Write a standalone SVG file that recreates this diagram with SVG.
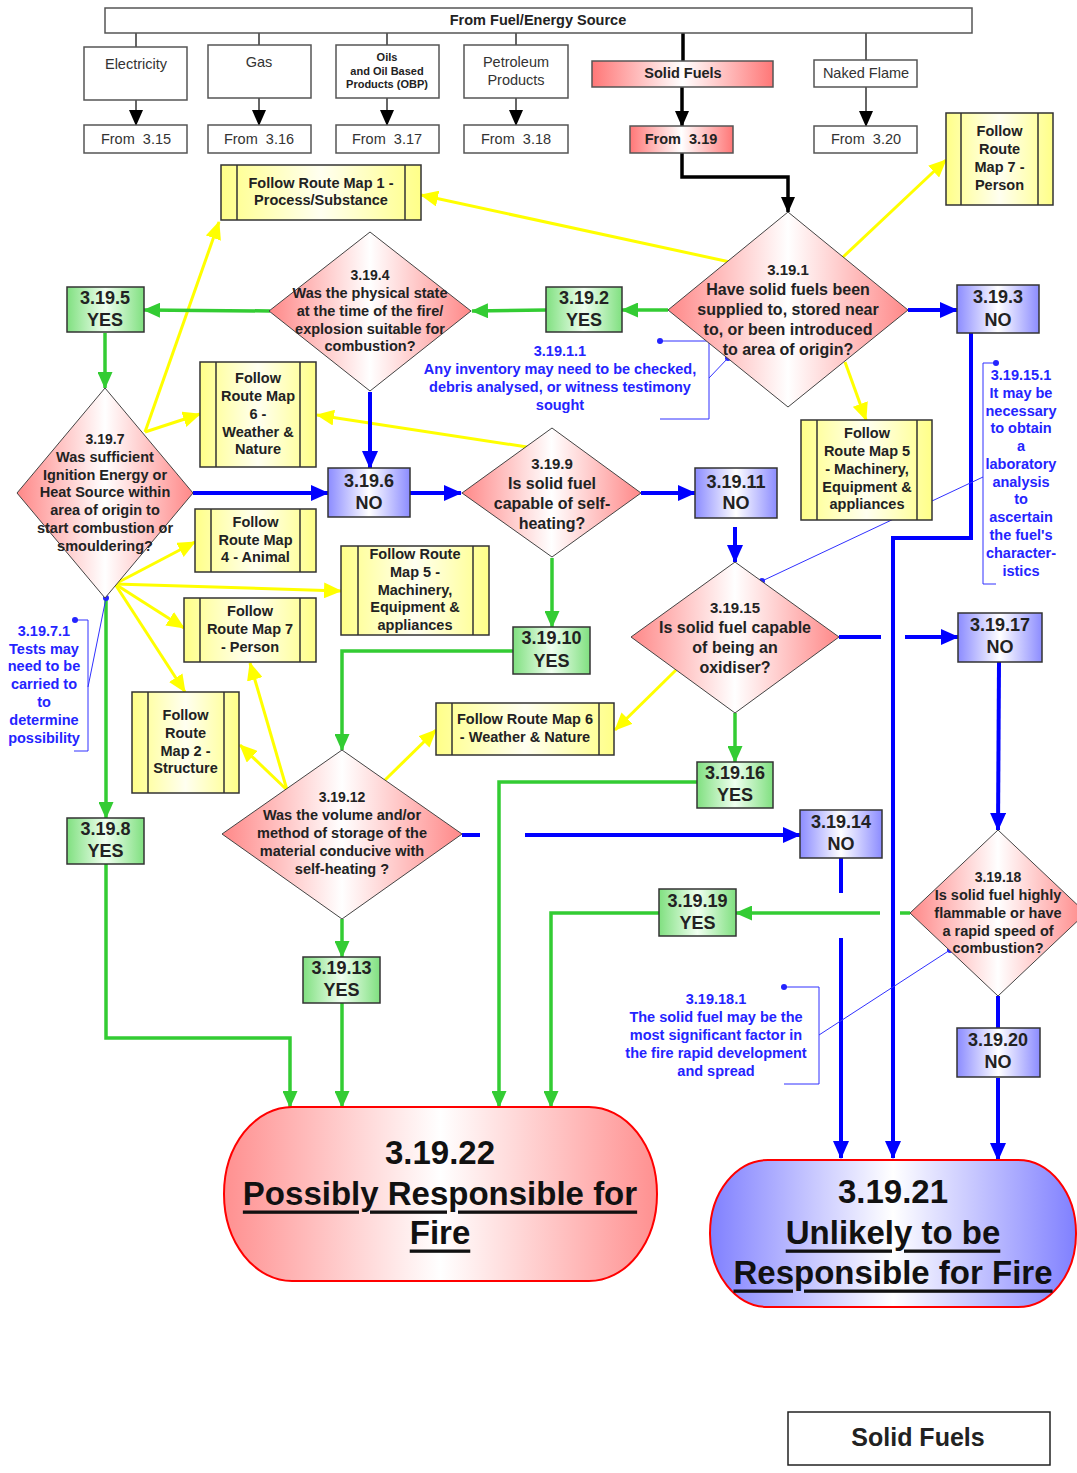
<svg xmlns="http://www.w3.org/2000/svg" width="1077" height="1473" viewBox="0 0 1077 1473">
<defs>
<linearGradient id="gr" x1="0" y1="0" x2="1" y2="0"><stop offset="0" stop-color="#f77"/><stop offset="0.5" stop-color="#fff"/><stop offset="1" stop-color="#f77"/></linearGradient>
<linearGradient id="gd" x1="0" y1="0" x2="1" y2="0"><stop offset="0" stop-color="#f88"/><stop offset="0.5" stop-color="#fff"/><stop offset="1" stop-color="#f88"/></linearGradient>
<linearGradient id="gg" x1="0" y1="0" x2="1" y2="0"><stop offset="0" stop-color="#80e080"/><stop offset="0.5" stop-color="#f0fff0"/><stop offset="1" stop-color="#80e080"/></linearGradient>
<linearGradient id="gb" x1="0" y1="0" x2="1" y2="0"><stop offset="0" stop-color="#8c8cff"/><stop offset="0.5" stop-color="#fff"/><stop offset="1" stop-color="#8c8cff"/></linearGradient>
<linearGradient id="gy" x1="0" y1="0" x2="1" y2="0"><stop offset="0" stop-color="#ffff88"/><stop offset="0.5" stop-color="#fffff0"/><stop offset="1" stop-color="#ffff88"/></linearGradient>
<linearGradient id="gt" x1="0" y1="0" x2="1" y2="0"><stop offset="0" stop-color="#ff9090"/><stop offset="0.5" stop-color="#fff"/><stop offset="1" stop-color="#ff9090"/></linearGradient>
<linearGradient id="gu" x1="0" y1="0" x2="1" y2="0"><stop offset="0" stop-color="#8080ff"/><stop offset="0.5" stop-color="#fff"/><stop offset="1" stop-color="#8080ff"/></linearGradient>
<marker id="ag" markerUnits="userSpaceOnUse" markerWidth="17" markerHeight="15" refX="16" refY="7.5" orient="auto"><path d="M0,0L17,7.5L0,15z" fill="#33cc33"/></marker>
<marker id="ab" markerUnits="userSpaceOnUse" markerWidth="18" markerHeight="16" refX="17" refY="8" orient="auto"><path d="M0,0L18,8L0,16z" fill="#0000ff"/></marker>
<marker id="ay" markerUnits="userSpaceOnUse" markerWidth="18" markerHeight="16" refX="17" refY="8" orient="auto"><path d="M0,0L18,8L0,16z" fill="#ffff00"/></marker>
<marker id="ak" markerUnits="userSpaceOnUse" markerWidth="16" markerHeight="14" refX="15" refY="7" orient="auto"><path d="M0,0L16,7L0,14z" fill="#000"/></marker>
</defs>
<style>
text{font-family:"Liberation Sans",Arial,sans-serif;text-anchor:middle;dominant-baseline:central;fill:#222}
.b{font-weight:bold}
.r{font-size:14.5px;fill:#333}
.f{font-size:14.5px;font-weight:bold}
.l{font-size:18px;font-weight:bold}
.d{font-size:14.5px;font-weight:bold}
.D{font-size:16px;font-weight:bold}
.n{font-size:14.5px;font-weight:bold;fill:#2424ff}
.t{font-size:33px;font-weight:bold;fill:#111}
.u{text-decoration:underline}
.w{fill:#fff;stroke:#555;stroke-width:1.5}
.y{fill:url(#gy);stroke:#333;stroke-width:1.5}
.yi{stroke:#333;stroke-width:1.5}
.g{fill:url(#gg);stroke:#333;stroke-width:1.5}
.bl{fill:url(#gb);stroke:#333;stroke-width:1.5}
.dm{fill:url(#gd);stroke:#444;stroke-width:1}
.cg{stroke:#33cc33;stroke-width:3.5;fill:none}
.cb{stroke:#0000ff;stroke-width:4;fill:none}
.cy{stroke:#ffff00;stroke-width:3;fill:none}
.ck{stroke:#000;stroke-width:3.5;fill:none}
.cs{stroke:#333;stroke-width:1.5;fill:none}
.cn{stroke:#3030ff;stroke-width:1;fill:none}
</style>
<rect width="1077" height="1473" fill="#fff"/>

<g id="connectors">
<line class="cs" x1="136" y1="33" x2="136" y2="47"/>
<line class="cs" x1="259" y1="33" x2="259" y2="45"/>
<line class="cs" x1="387" y1="33" x2="387" y2="45"/>
<line class="cs" x1="516" y1="33" x2="516" y2="45"/>
<line class="cs" x1="866" y1="33" x2="866" y2="60"/>
<line class="cs" stroke-width="2" x1="136" y1="100" x2="136" y2="125" marker-end="url(#ak)"/>
<line class="cs" stroke-width="2" x1="259" y1="98" x2="259" y2="125" marker-end="url(#ak)"/>
<line class="cs" stroke-width="2" x1="387" y1="98" x2="387" y2="125" marker-end="url(#ak)"/>
<line class="cs" stroke-width="2" x1="516" y1="98" x2="516" y2="125" marker-end="url(#ak)"/>
<line class="cs" stroke-width="2" x1="866" y1="87" x2="866" y2="126" marker-end="url(#ak)"/>
<line class="ck" x1="683" y1="33" x2="683" y2="61"/>
<line class="ck" x1="682" y1="87" x2="682" y2="126" marker-end="url(#ak)"/>
<path class="ck" d="M682,153V177H788V212" marker-end="url(#ak)"/>

<line class="cy" x1="730" y1="262" x2="421" y2="195" marker-end="url(#ay)"/>
<line class="cy" x1="843" y1="257" x2="946" y2="160" marker-end="url(#ay)"/>
<line class="cy" x1="845" y1="362" x2="866" y2="420" marker-end="url(#ay)"/>
<line class="cy" x1="145" y1="432" x2="219" y2="222" marker-end="url(#ay)"/>
<line class="cy" x1="145" y1="432" x2="200" y2="414" marker-end="url(#ay)"/>
<line class="cy" x1="527" y1="447" x2="317" y2="415" marker-end="url(#ay)"/>
<line class="cy" x1="115" y1="584" x2="195" y2="542" marker-end="url(#ay)"/>
<line class="cy" x1="115" y1="584" x2="341" y2="591" marker-end="url(#ay)"/>
<line class="cy" x1="115" y1="584" x2="184" y2="628" marker-end="url(#ay)"/>
<line class="cy" x1="115" y1="584" x2="185" y2="692" marker-end="url(#ay)"/>
<line class="cy" x1="287" y1="790" x2="240" y2="745" marker-end="url(#ay)"/>
<line class="cy" x1="287" y1="790" x2="250" y2="663" marker-end="url(#ay)"/>
<line class="cy" x1="385" y1="780" x2="436" y2="730" marker-end="url(#ay)"/>
<line class="cy" x1="676" y1="670" x2="615" y2="730" marker-end="url(#ay)"/>

<line class="cg" x1="668" y1="310" x2="622" y2="310" marker-end="url(#ag)"/>
<line class="cg" x1="546" y1="310" x2="472" y2="311" marker-end="url(#ag)"/>
<line class="cg" x1="270" y1="311" x2="144" y2="310" marker-end="url(#ag)"/>
<line class="cg" x1="105" y1="333" x2="105" y2="388" marker-end="url(#ag)"/>
<line class="cg" x1="106" y1="598" x2="106" y2="818" marker-end="url(#ag)"/>
<path class="cg" d="M106,864V1038H290V1107" marker-end="url(#ag)"/>
<line class="cg" x1="552" y1="558" x2="552" y2="627" marker-end="url(#ag)"/>
<path class="cg" d="M513,651H342V750" marker-end="url(#ag)"/>
<line class="cg" x1="342" y1="919" x2="342" y2="957" marker-end="url(#ag)"/>
<line class="cg" x1="342" y1="1003" x2="342" y2="1107" marker-end="url(#ag)"/>
<line class="cg" x1="735" y1="713" x2="735" y2="762" marker-end="url(#ag)"/>
<path class="cg" d="M697,782H499V1107" marker-end="url(#ag)"/>
<line class="cg" x1="910" y1="913" x2="900" y2="913"/>
<line class="cg" x1="880" y1="913" x2="736" y2="913" marker-end="url(#ag)"/>
<path class="cg" d="M659,913H551V1107" marker-end="url(#ag)"/>

<line class="cb" x1="908" y1="310" x2="957" y2="310" marker-end="url(#ab)"/>
<path class="cb" d="M971,333V538H893V1158" marker-end="url(#ab)"/>
<line class="cb" x1="370" y1="392" x2="370" y2="468" marker-end="url(#ab)"/>
<line class="cb" x1="193" y1="493" x2="328" y2="493" marker-end="url(#ab)"/>
<line class="cb" x1="410" y1="493" x2="461" y2="493" marker-end="url(#ab)"/>
<line class="cb" x1="641" y1="493" x2="695" y2="493" marker-end="url(#ab)"/>
<line class="cb" x1="735" y1="527" x2="735" y2="562" marker-end="url(#ab)"/>
<line class="cb" x1="839" y1="637" x2="881" y2="637"/>
<line class="cb" x1="905" y1="637" x2="958" y2="637" marker-end="url(#ab)"/>
<line class="cb" x1="999" y1="662" x2="998" y2="830" marker-end="url(#ab)"/>
<line class="cb" x1="462" y1="835" x2="480" y2="835"/>
<line class="cb" x1="525" y1="835" x2="800" y2="835" marker-end="url(#ab)"/>
<line class="cb" x1="841" y1="858" x2="841" y2="893"/>
<line class="cb" x1="841" y1="938" x2="841" y2="1158" marker-end="url(#ab)"/>
<line class="cb" x1="998" y1="996" x2="998" y2="1028"/>
<line class="cb" x1="998" y1="1078" x2="998" y2="1160" marker-end="url(#ab)"/>

<path class="cn" d="M660,341H709V419H660M709,378L728,358"/>
<circle cx="660" cy="341" r="3" fill="#2424ff"/><circle cx="728" cy="358" r="3" fill="#2424ff"/>
<path class="cn" d="M996,363H983V584H996M983,477L762,581"/>
<circle cx="996" cy="363" r="3" fill="#2424ff"/><circle cx="762" cy="581" r="3" fill="#2424ff"/>
<path class="cn" d="M75,620H88V751H74M88,687L106,598"/>
<circle cx="75" cy="620" r="3" fill="#2424ff"/><circle cx="106" cy="598" r="3" fill="#2424ff"/>
<path class="cn" d="M784,987H819V1084H784M819,1035L950,950"/>
<circle cx="784" cy="987" r="3" fill="#2424ff"/><circle cx="950" cy="950" r="3" fill="#2424ff"/>
</g>

<g id="source"><rect class="w" x="105" y="8" width="867" height="25"/><text x="538" y="20" class="f">From Fuel/Energy Source</text></g>
<g id="electricity"><rect class="w" x="84" y="47" width="103" height="53"/><text x="136" y="64" class="r">Electricity</text></g>
<g id="gas"><rect class="w" x="208" y="45" width="103" height="53"/><text x="259" y="62" class="r">Gas</text></g>
<g id="oils"><rect class="w" x="336" y="45" width="103" height="53"/><text x="387" y="57" class="b" font-size="11">Oils</text><text x="387" y="71" class="b" font-size="11">and Oil Based</text><text x="387" y="84" class="b" font-size="11">Products (OBP)</text></g>
<g id="petroleum"><rect class="w" x="464" y="45" width="104" height="53"/><text x="516" y="62" class="r">Petroleum</text><text x="516" y="80" class="r">Products</text></g>
<g id="solidfuels"><rect x="592" y="61" width="181" height="26" fill="url(#gr)" stroke="#555" stroke-width="1.5"/><text x="683" y="73" class="f">Solid Fuels</text></g>
<g id="nakedflame"><rect class="w" x="814" y="60" width="103" height="27"/><text x="866" y="73" class="r">Naked Flame</text></g>
<g id="from315"><rect class="w" x="84" y="125" width="103" height="28"/><text x="136" y="139" class="r" xml:space="preserve">From  3.15</text></g>
<g id="from316"><rect class="w" x="208" y="125" width="103" height="28"/><text x="259" y="139" class="r" xml:space="preserve">From  3.16</text></g>
<g id="from317"><rect class="w" x="336" y="125" width="103" height="28"/><text x="387" y="139" class="r" xml:space="preserve">From  3.17</text></g>
<g id="from318"><rect class="w" x="464" y="125" width="104" height="28"/><text x="516" y="139" class="r" xml:space="preserve">From  3.18</text></g>
<g id="from319"><rect x="630" y="126" width="103" height="27" fill="url(#gr)" stroke="#555" stroke-width="1.5"/><text x="681" y="139" class="f" xml:space="preserve">From  3.19</text></g>
<g id="from320"><rect class="w" x="814" y="126" width="103" height="27"/><text x="866" y="139" class="r" xml:space="preserve">From  3.20</text></g>

<g id="rm7top"><rect class="y" x="946" y="113" width="107" height="92"/><line class="yi" x1="961" y1="113" x2="961" y2="205"/><line class="yi" x1="1038" y1="113" x2="1038" y2="205"/><text x="999.5" y="131" class="f">Follow</text><text x="999.5" y="149" class="f">Route</text><text x="999.5" y="167" class="f">Map 7 -</text><text x="999.5" y="185" class="f">Person</text></g>
<g id="rm1"><rect class="y" x="221" y="165" width="200" height="55"/><line class="yi" x1="237" y1="165" x2="237" y2="220"/><line class="yi" x1="405" y1="165" x2="405" y2="220"/><text x="321" y="183" class="f">Follow Route Map 1 -</text><text x="321" y="200" class="f">Process/Substance</text></g>

<g id="n3191"><polygon class="dm" points="788,212 908,310 788,407 668,310"/><text x="788" y="269" class="b" font-size="15">3.19.1</text><text x="788" y="289" class="D">Have solid fuels been</text><text x="788" y="309" class="D">supplied to, stored near</text><text x="788" y="329" class="D">to, or been introduced</text><text x="788" y="349" class="D">to area of origin?</text></g>
<g id="n3192"><rect class="g" x="546" y="287" width="76" height="45"/><text x="584" y="298" class="l">3.19.2</text><text x="584" y="320" class="l">YES</text></g>
<g id="n3193"><rect class="bl" x="957" y="285" width="82" height="48"/><text x="998" y="297" class="l">3.19.3</text><text x="998" y="320" class="l">NO</text></g>
<g id="n3194"><polygon class="dm" points="370,232 471,311 370,391 269,311"/><text x="370" y="275" class="b" font-size="14">3.19.4</text><text x="370" y="293" class="d">Was the physical state</text><text x="370" y="311" class="d">at the time of the fire/</text><text x="370" y="329" class="d">explosion suitable for</text><text x="370" y="346" class="d">combustion?</text></g>
<g id="n3195"><rect class="g" x="67" y="287" width="77" height="45"/><text x="105" y="298" class="l">3.19.5</text><text x="105" y="320" class="l">YES</text></g>
<g id="n3197"><polygon class="dm" points="105,388 193,493 105,598 17,493"/><text x="105" y="439" class="b" font-size="14">3.19.7</text><text x="105" y="457" class="d">Was sufficient</text><text x="105" y="475" class="d">Ignition Energy or</text><text x="105" y="492" class="d">Heat Source within</text><text x="105" y="510" class="d">area of origin to</text><text x="105" y="528" class="d">start combustion or</text><text x="105" y="546" class="d">smouldering?</text></g>
<g id="rm6a"><rect class="y" x="200" y="362" width="116" height="105"/><line class="yi" x1="216" y1="362" x2="216" y2="467"/><line class="yi" x1="300" y1="362" x2="300" y2="467"/><text x="258" y="378" class="f">Follow</text><text x="258" y="396" class="f">Route Map</text><text x="258" y="414" class="f">6 -</text><text x="258" y="432" class="f">Weather &amp;</text><text x="258" y="449" class="f">Nature</text></g>
<g id="n3196"><rect class="bl" x="328" y="468" width="82" height="49"/><text x="369" y="481" class="l">3.19.6</text><text x="369" y="503" class="l">NO</text></g>
<g id="n3199"><polygon class="dm" points="552,428 641,493 552,557 462,493"/><text x="552" y="463" class="b" font-size="15">3.19.9</text><text x="552" y="483" class="D">Is solid fuel</text><text x="552" y="503" class="D">capable of self-</text><text x="552" y="523" class="D">heating?</text></g>
<g id="n31911"><rect class="bl" x="695" y="468" width="82" height="50"/><text x="736" y="482" class="l">3.19.11</text><text x="736" y="503" class="l">NO</text></g>
<g id="rm5a"><rect class="y" x="801" y="420" width="131" height="100"/><line class="yi" x1="817" y1="420" x2="817" y2="520"/><line class="yi" x1="917" y1="420" x2="917" y2="520"/><text x="867" y="433" class="f">Follow</text><text x="867" y="451" class="f">Route Map 5</text><text x="867" y="469" class="f">- Machinery,</text><text x="867" y="487" class="f">Equipment &amp;</text><text x="867" y="504" class="f">appliances</text></g>
<g id="note31911"><text x="560" y="351" class="n" font-size="13">3.19.1.1</text><text x="560" y="369" class="n">Any inventory may need to be checked,</text><text x="560" y="387" class="n">debris analysed, or witness testimony</text><text x="560" y="405" class="n">sought</text></g>
<g id="note319151"><text x="1021" y="375" class="n">3.19.15.1</text><text x="1021" y="393" class="n">It may be</text><text x="1021" y="411" class="n">necessary</text><text x="1021" y="428" class="n">to obtain</text><text x="1021" y="446" class="n">a</text><text x="1021" y="464" class="n">laboratory</text><text x="1021" y="482" class="n">analysis</text><text x="1021" y="499" class="n">to</text><text x="1021" y="517" class="n">ascertain</text><text x="1021" y="535" class="n">the fuel's</text><text x="1021" y="553" class="n">character-</text><text x="1021" y="571" class="n">istics</text></g>
<g id="rm4"><rect class="y" x="195" y="509" width="121" height="63"/><line class="yi" x1="211" y1="509" x2="211" y2="572"/><line class="yi" x1="300" y1="509" x2="300" y2="572"/><text x="255.5" y="522" class="f">Follow</text><text x="255.5" y="540" class="f">Route Map</text><text x="255.5" y="557" class="f">4 - Animal</text></g>
<g id="rm5b"><rect class="y" x="341" y="546" width="148" height="89"/><line class="yi" x1="358" y1="546" x2="358" y2="635"/><line class="yi" x1="473" y1="546" x2="473" y2="635"/><text x="415" y="554" class="f">Follow Route</text><text x="415" y="572" class="f">Map 5 -</text><text x="415" y="590" class="f">Machinery,</text><text x="415" y="607" class="f">Equipment &amp;</text><text x="415" y="625" class="f">appliances</text></g>
<g id="rm7b"><rect class="y" x="184" y="598" width="132" height="64"/><line class="yi" x1="200" y1="598" x2="200" y2="662"/><line class="yi" x1="300" y1="598" x2="300" y2="662"/><text x="250" y="611" class="f">Follow</text><text x="250" y="629" class="f">Route Map 7</text><text x="250" y="647" class="f">- Person</text></g>
<g id="rm2"><rect class="y" x="132" y="692" width="107" height="101"/><line class="yi" x1="148" y1="692" x2="148" y2="793"/><line class="yi" x1="224" y1="692" x2="224" y2="793"/><text x="185.5" y="715" class="f">Follow</text><text x="185.5" y="733" class="f">Route</text><text x="185.5" y="751" class="f">Map 2 -</text><text x="185.5" y="768" class="f">Structure</text></g>
<g id="note31971"><text x="44" y="631" class="n">3.19.7.1</text><text x="44" y="649" class="n">Tests may</text><text x="44" y="666" class="n">need to be</text><text x="44" y="684" class="n">carried to</text><text x="44" y="702" class="n">to</text><text x="44" y="720" class="n">determine</text><text x="44" y="738" class="n">possibility</text></g>
<g id="n31910"><rect class="g" x="513" y="627" width="77" height="47"/><text x="551.5" y="638" class="l">3.19.10</text><text x="551.5" y="661" class="l">YES</text></g>
<g id="n31915"><polygon class="dm" points="735,562 839,637 735,713 631,637"/><text x="735" y="607" class="b" font-size="15">3.19.15</text><text x="735" y="627" class="D">Is solid fuel capable</text><text x="735" y="647" class="D">of being an</text><text x="735" y="667" class="D">oxidiser?</text></g>
<g id="n31917"><rect class="bl" x="958" y="613" width="84" height="49"/><text x="1000" y="625" class="l">3.19.17</text><text x="1000" y="647" class="l">NO</text></g>
<g id="rm6b"><rect class="y" x="436" y="703" width="178" height="52"/><line class="yi" x1="452" y1="703" x2="452" y2="755"/><line class="yi" x1="599" y1="703" x2="599" y2="755"/><text x="525" y="719" class="f">Follow Route Map 6</text><text x="525" y="737" class="f">- Weather &amp; Nature</text></g>
<g id="n31916"><rect class="g" x="697" y="762" width="76" height="46"/><text x="735" y="773" class="l">3.19.16</text><text x="735" y="795" class="l">YES</text></g>
<g id="n31912"><polygon class="dm" points="342,750 462,834 342,919 222,834"/><text x="342" y="797" class="b" font-size="14">3.19.12</text><text x="342" y="815" class="d">Was the volume and/or</text><text x="342" y="833" class="d">method of storage of the</text><text x="342" y="851" class="d">material conducive with</text><text x="342" y="869" class="d">self-heating ?</text></g>
<g id="n3198"><rect class="g" x="67" y="818" width="77" height="46"/><text x="105.5" y="829" class="l">3.19.8</text><text x="105.5" y="851" class="l">YES</text></g>
<g id="n31914"><rect class="bl" x="800" y="810" width="82" height="48"/><text x="841" y="822" class="l">3.19.14</text><text x="841" y="844" class="l">NO</text></g>
<g id="n31919"><rect class="g" x="659" y="889" width="77" height="47"/><text x="697.5" y="901" class="l">3.19.19</text><text x="697.5" y="923" class="l">YES</text></g>
<g id="n31918"><polygon class="dm" points="998,830 1086,913 998,996 910,913"/><text x="998" y="877" class="b" font-size="14">3.19.18</text><text x="998" y="895" class="d">Is solid fuel highly</text><text x="998" y="913" class="d">flammable or have</text><text x="998" y="931" class="d">a rapid speed of</text><text x="998" y="948" class="d">combustion?</text></g>
<g id="n31913"><rect class="g" x="303" y="957" width="77" height="46"/><text x="341.5" y="968" class="l">3.19.13</text><text x="341.5" y="990" class="l">YES</text></g>
<g id="n31920"><rect class="bl" x="957" y="1028" width="83" height="49"/><text x="998" y="1040" class="l">3.19.20</text><text x="998" y="1062" class="l">NO</text></g>
<g id="note319181"><text x="716" y="999" class="n" font-size="13">3.19.18.1</text><text x="716" y="1017" class="n">The solid fuel may be the</text><text x="716" y="1035" class="n">most significant factor in</text><text x="716" y="1053" class="n">the fire rapid development</text><text x="716" y="1071" class="n">and spread</text></g>
<g id="n31922"><rect x="224" y="1107" width="433" height="174" rx="68" ry="87" fill="url(#gt)" stroke="#f00" stroke-width="2"/><text x="440" y="1152" class="t">3.19.22</text><text x="440" y="1193" class="t u">Possibly Responsible for</text><text x="440" y="1232" class="t u">Fire</text></g>
<g id="n31921"><rect x="710" y="1160" width="366" height="147" rx="58" ry="73" fill="url(#gu)" stroke="#f00" stroke-width="2"/><text x="893" y="1191" class="t">3.19.21</text><text x="893" y="1232" class="t u">Unlikely to be</text><text x="893" y="1272" class="t u">Responsible for Fire</text></g>
<g id="legend"><rect x="788" y="1412" width="262" height="53" fill="#fff" stroke="#222" stroke-width="1.5"/><text x="918" y="1437" class="b" font-size="25" fill="#111">Solid Fuels</text></g>
</svg>
